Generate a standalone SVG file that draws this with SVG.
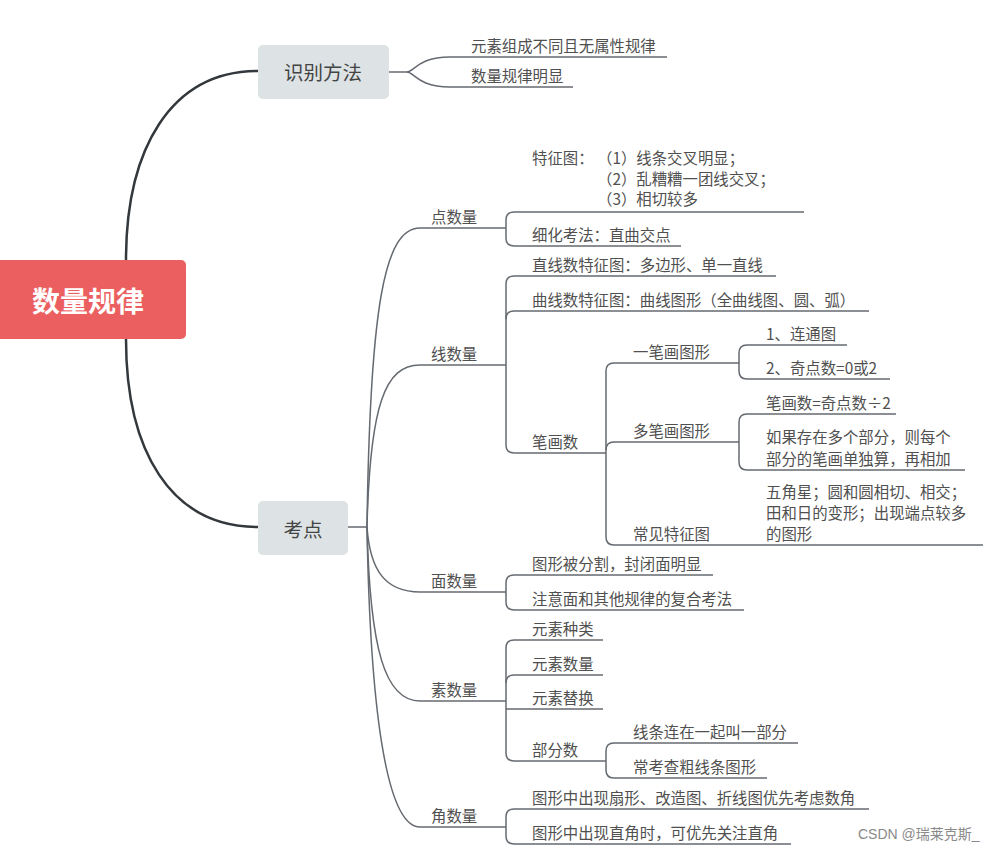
<svg xmlns="http://www.w3.org/2000/svg" width="998" height="852" viewBox="0 0 998 852">
<style>
.t{font-family:"Noto Sans CJK SC","Noto Sans",sans-serif;font-size:15.4px;fill:#505050}
.l{fill:none;stroke:#656a70;stroke-width:1.5}
.m{fill:none;stroke:#33383d;stroke-width:2.5}
.box{fill:#dde2e5}
.bt{font-family:"Noto Sans CJK SC","Noto Sans",sans-serif;font-size:19.5px;fill:#444;text-anchor:middle}
</style>
<rect width="998" height="852" fill="#fff"/>
<g id="connectors">
<path class="m" d="M126,260 C126,150 170,71 258,71"/>
<path class="m" d="M126,339 C126,450 170,527 258,527"/>
<path class="l" d="M389,72 H407 C414,72 418,57 450,57 H667"/>
<path class="l" d="M407,72 C414,72 418,87 450,87 H573"/>
<path class="l" d="M348,527 H367"/>
<path class="l" d="M367,527 C370,303 385,228 420,228 H506"/>
<path class="l" d="M367,527 C370,405 385,365 420,365 H506"/>
<path class="l" d="M367,527 C370,570 385,592 420,592 H506"/>
<path class="l" d="M367,527 C370,650 385,701 420,701 H506"/>
<path class="l" d="M367,527 C370,700 385,827 420,827 H506"/>
<path class="l" d="M804,212 H514 Q506,212 506,220 V238 Q506,246 514,246 H681"/>
<path class="l" d="M776,276 H514 Q506,276 506,284 V445 Q506,453 514,453 H606"/>
<path class="l" d="M506,319 Q506,311 514,311 H869"/>
<path class="l" d="M739,363 H614 Q606,363 606,371 V537 Q606,545 614,545 H983"/>
<path class="l" d="M606,450 Q606,442 614,442 H739"/>
<path class="l" d="M847,345 H747 Q739,345 739,353 V371 Q739,379 747,379 H890"/>
<path class="l" d="M896,414 H747 Q739,414 739,422 V462 Q739,470 747,470 H965"/>
<path class="l" d="M713,575 H514 Q506,575 506,583 V602 Q506,610 514,610 H744"/>
<path class="l" d="M603,640 H514 Q506,640 506,648 V753 Q506,761 514,761 H606"/>
<path class="l" d="M506,683 Q506,675 514,675 H603"/>
<path class="l" d="M506,709 H603"/>
<path class="l" d="M798,743 H614 Q606,743 606,751 V770 Q606,778 614,778 H767"/>
<path class="l" d="M869,809 H514 Q506,809 506,817 V836 Q506,844 514,844 H791"/>
</g>
<g id="root">
<rect x="-6" y="260" width="192" height="79" rx="5" fill="#eb5f60"/>
<text x="88" y="312" font-family="Noto Sans CJK SC,sans-serif" font-size="28" font-weight="bold" fill="#fff" text-anchor="middle">数量规律</text>
</g>
<g id="shibie">
<rect class="box" x="258" y="45" width="131" height="54" rx="5"/>
<text class="bt" x="323" y="80">识别方法</text>
</g>
<g id="kaodian">
<rect class="box" x="258" y="501" width="90" height="54" rx="5"/>
<text class="bt" x="303" y="537" font-size="20">考点</text>
</g>
<g id="shibie-children">
<text class="t" x="471" y="52">元素组成不同且无属性规律</text>
<text class="t" x="471" y="82">数量规律明显</text>
</g>
<g id="dian">
<text class="t" x="431" y="223">点数量</text>
<text class="t" x="532" y="164">特征图：</text>
<text class="t" x="597" y="164">（1）线条交叉明显；</text>
<text class="t" x="597" y="185">（2）乱糟糟一团线交叉；</text>
<text class="t" x="597" y="205">（3）相切较多</text>
<text class="t" x="532" y="241">细化考法：直曲交点</text>
</g>
<g id="xian">
<text class="t" x="431" y="360">线数量</text>
<text class="t" x="532" y="271">直线数特征图：多边形、单一直线</text>
<text class="t" x="532" y="306">曲线数特征图：曲线图形（全曲线图、圆、弧）</text>
<text class="t" x="532" y="448">笔画数</text>
<text class="t" x="633" y="358">一笔画图形</text>
<text class="t" x="633" y="437">多笔画图形</text>
<text class="t" x="633" y="540">常见特征图</text>
<text class="t" x="766" y="340">1、连通图</text>
<text class="t" x="766" y="374">2、奇点数=0或2</text>
<text class="t" x="766" y="409">笔画数=奇点数÷2</text>
<text class="t" x="766" y="443">如果存在多个部分，则每个</text>
<text class="t" x="766" y="465">部分的笔画单独算，再相加</text>
<text class="t" x="766" y="498">五角星；圆和圆相切、相交；</text>
<text class="t" x="766" y="519">田和日的变形；出现端点较多</text>
<text class="t" x="766" y="540">的图形</text>
</g>
<g id="mian">
<text class="t" x="431" y="587">面数量</text>
<text class="t" x="532" y="570">图形被分割，封闭面明显</text>
<text class="t" x="532" y="605">注意面和其他规律的复合考法</text>
</g>
<g id="su">
<text class="t" x="431" y="696">素数量</text>
<text class="t" x="532" y="635">元素种类</text>
<text class="t" x="532" y="670">元素数量</text>
<text class="t" x="532" y="704">元素替换</text>
<text class="t" x="532" y="756">部分数</text>
<text class="t" x="633" y="738">线条连在一起叫一部分</text>
<text class="t" x="633" y="773">常考查粗线条图形</text>
</g>
<g id="jiao">
<text class="t" x="431" y="822">角数量</text>
<text class="t" x="532" y="804">图形中出现扇形、改造图、折线图优先考虑数角</text>
<text class="t" x="532" y="839">图形中出现直角时，可优先关注直角</text>
</g>
<text x="858" y="839" font-family="Liberation Sans,Noto Sans CJK SC,sans-serif" font-size="14" fill="#8a8a8a">CSDN @瑞莱克斯_</text>
</svg>
